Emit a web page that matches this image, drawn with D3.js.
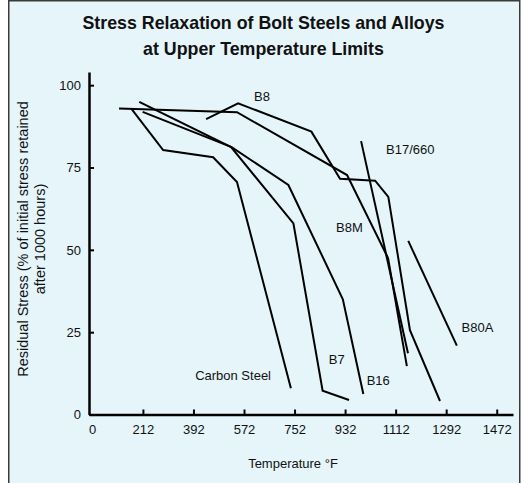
<!DOCTYPE html>
<html>
<head>
<meta charset="utf-8">
<script src="https://cdn.jsdelivr.net/npm/d3@7"></script>
<style>
  body { margin: 0; background: #fff; }
  svg { display: block; }
  text { font-family: "Liberation Sans", Arial, Helvetica, sans-serif; fill: #111; }
</style>
</head>
<body>
<svg id="chart" width="527" height="483"></svg>
<script>
// Residual stress (% retained after 1000 h) against temperature (°F)
const carbonSteel = [[172, 92.7], [284, 80.3], [462, 78.1], [547, 70.6], [739, 8.0]];
const b7 = [[199, 94.9], [526, 81.2], [748, 58.0], [852, 7.2], [946, 4.4]];
const b16 = [[211, 91.9], [528, 81.2], [730, 69.7], [924, 35.0], [997, 6.2]];
const b8m = [[127, 92.9], [547, 91.8], [939, 72.7], [1085, 47.5], [1152, 14.7]];
const b8 = [[437, 89.7], [551, 94.5], [812, 85.9], [914, 71.6], [1039, 71.0], [1086, 66.1], [1163, 25.6], [1270, 4.1]];
const b17 = [[989, 83.0], [1156, 18.6]];
const b80a = [[1157, 52.7], [1330, 20.9]];

const seriesNames = ["Carbon Steel", "B7", "B16", "B8M", "B8", "B17/660", "B80A"];
const seriesValues = [carbonSteel, b7, b16, b8m, b8, b17, b80a];
// label anchor for each series, in chart units [°F, %]
const labelAnchors = [[398, 10.5], [874, 15.2], [1009, 9.0], [900, 55.5], [608, 95.1], [1078, 79.2], [1347, 25.0]];

const xTicks = [0, 212, 392, 572, 752, 932, 1112, 1292, 1472];
const yTicks = [0, 25, 50, 75, 100];

const titleLines = ["Stress Relaxation of Bolt Steels and Alloys", "at Upper Temperature Limits"];
const xTitle = "Temperature °F";
const yTitleLines = ["Residual Stress (% of initial stress retained", "after 1000 hours)"];

const svg = d3.select("#chart");

// panel frame
svg.append("rect")
  .attr("x", 8.75).attr("y", 0.75)
  .attr("width", 511).attr("height", 500)
  .attr("fill", "#e5f5f9")
  .attr("stroke", "#3a3a3a")
  .attr("stroke-width", 1.5);

const x = d3.scaleLinear().domain([20, 1530]).range([89, 513]).clamp(true);
const y = d3.scaleLinear().domain([0, 104]).range([414.5, 72]);

// title
const title = svg.append("text")
  .attr("text-anchor", "middle")
  .style("font-weight", "bold")
  .style("font-size", "17.8px");
title.selectAll("tspan").data(titleLines).join("tspan")
  .attr("x", 263.5)
  .attr("y", (d, i) => i === 0 ? 28.5 : 55)
  .text(d => d);

// axes
const xAxis = d3.axisBottom(x).tickValues(xTicks).tickFormat(d3.format("d"))
  .tickSizeInner(-5).tickSizeOuter(0).tickPadding(10);
const yAxis = d3.axisLeft(y).tickValues(yTicks).tickFormat(d3.format("d"))
  .tickSizeInner(-5).tickSizeOuter(0).tickPadding(8);

const gx = svg.append("g").attr("transform", `translate(0,${y(0)})`).call(xAxis);
const gy = svg.append("g").attr("transform", `translate(${x.range()[0]},0)`).call(yAxis);

[gx, gy].forEach(g => {
  g.select(".domain").attr("stroke", "#000").attr("stroke-width", 2.5);
  g.selectAll(".tick line").attr("stroke", "#000").attr("stroke-width", 2);
  g.selectAll(".tick text").style("font-size", "13px").attr("fill", "#111")
    .style("font-family", '"Liberation Sans", Arial, sans-serif');
});
gx.selectAll(".tick").filter(d => d === 0).select("line").remove();
gx.selectAll(".tick").filter(d => d === 0).select("text").attr("dx", 3);

// axis titles
svg.append("text")
  .attr("x", 293).attr("y", 468)
  .attr("text-anchor", "middle")
  .style("font-size", "13px")
  .text(xTitle);

const yt = svg.append("text")
  .attr("transform", "translate(0,239) rotate(-90)")
  .attr("text-anchor", "middle")
  .style("font-size", "14.5px");
yt.selectAll("tspan").data(yTitleLines).join("tspan")
  .attr("x", 0)
  .attr("y", (d, i) => i === 0 ? 28 : 44.5)
  .text(d => d);

// curves
const line = d3.line().x(d => x(d[0])).y(d => y(d[1]));
svg.append("g").selectAll("path").data(seriesValues).join("path")
  .attr("d", line)
  .attr("fill", "none")
  .attr("stroke", "#000")
  .attr("stroke-width", 2);

// curve labels
svg.append("g").selectAll("text").data(seriesNames).join("text")
  .attr("x", (d, i) => x(labelAnchors[i][0]))
  .attr("y", (d, i) => y(labelAnchors[i][1]))
  .style("font-size", "13px")
  .text(d => d);
</script>
</body>
</html>
